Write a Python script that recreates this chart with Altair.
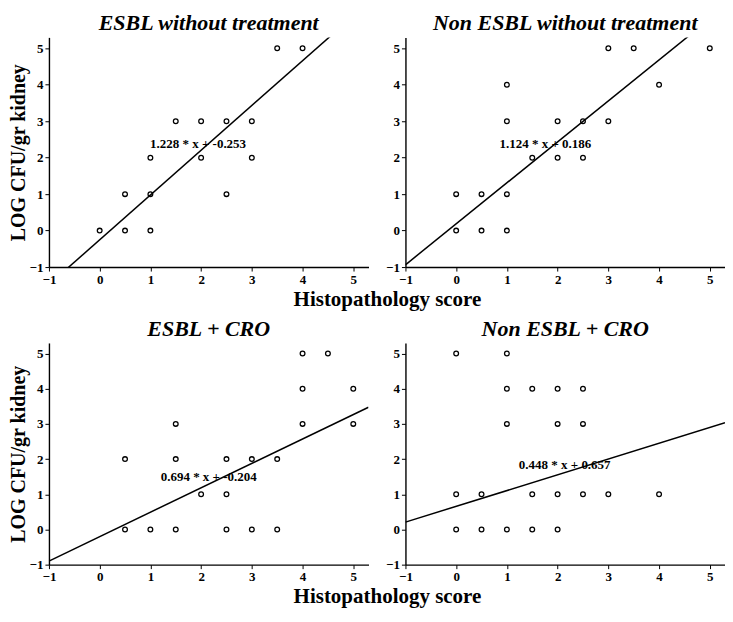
import altair as alt
import pandas as pd

FONT = "Liberation Serif"

titles = ["ESBL without treatment", "Non ESBL without treatment", "ESBL + CRO", "Non ESBL + CRO"]

p1_x = [0, 0.5, 1, 0.5, 1, 2.5, 1, 2, 3, 1.5, 2, 2.5, 3, 3.5, 4]
p1_y = [0, 0, 0, 1, 1, 1, 2, 2, 2, 3, 3, 3, 3, 5, 5]
p2_x = [0, 0.5, 1, 0, 0.5, 1, 1.5, 2, 2.5, 1, 2, 2.5, 3, 1, 4, 3, 3.5, 5]
p2_y = [0, 0, 0, 1, 1, 1, 2, 2, 2, 3, 3, 3, 3, 4, 4, 5, 5, 5]
p3_x = [0.5, 1, 1.5, 2.5, 3, 3.5, 2, 2.5, 0.5, 1.5, 2.5, 3, 3.5, 1.5, 4, 5, 4, 5, 4, 4.5]
p3_y = [0, 0, 0, 0, 0, 0, 1, 1, 2, 2, 2, 2, 2, 3, 3, 3, 4, 4, 5, 5]
p4_x = [0, 0.5, 1, 1.5, 2, 0, 0.5, 1.5, 2, 2.5, 3, 4, 1, 2, 2.5, 1, 1.5, 2, 2.5, 0, 1]
p4_y = [0, 0, 0, 0, 0, 1, 1, 1, 1, 1, 1, 1, 3, 3, 3, 4, 4, 4, 4, 5, 5]

slopes = [1.228, 1.124, 0.694, 0.448]
intercepts = [-0.253, 0.186, -0.204, 0.657]
equations = ["1.228 * x + -0.253", "1.124 * x + 0.186", "0.694 * x + -0.204", "0.448 * x + 0.657"]
label_x = [1.94, 1.76, 2.15, 2.14]
label_y = [2.37, 2.37, 1.5, 1.82]

tick_values = [-1, 0, 1, 2, 3, 4, 5]
domain = [-1, 5.3]

x_title = "Histopathology score"
y_title = "LOG CFU/gr kidney"

W = 320
H_ROWS = [230, 222]
COL_SP = 37
ROW_SP = 76

axis_common = dict(
    values=tick_values, labelFont=FONT, labelFontSize=13, labelFontWeight="bold",
    labelColor="black", tickColor="black", tickSize=4, tickWidth=1,
    domainColor="black", domainWidth=1.4, grid=False, labelPadding=2,
    labelFlush=False, titleFont=FONT, titleFontWeight="bold", titleColor="black",
)


def panel(i, xs, ys, left, height):
    pts = pd.DataFrame({"x": xs, "y": ys})
    line = pd.DataFrame({"x": domain, "y": [slopes[i] * v + intercepts[i] for v in domain]})
    lab = pd.DataFrame({"x": [label_x[i]], "y": [label_y[i]], "t": [equations[i]]})

    if left:
        xa = alt.Axis(title=x_title, titleFontSize=21, titlePadding=2,
                      titleX=(2 * W + COL_SP) / 2, **axis_common)
        ya = alt.Axis(title=y_title, titleFontSize=20, titlePadding=1, **axis_common)
    else:
        xa = alt.Axis(title=None, **axis_common)
        ya = alt.Axis(title=None, **axis_common)

    X = alt.X("x:Q", scale=alt.Scale(domain=domain, nice=False, zero=False), axis=xa)
    Y = alt.Y("y:Q", scale=alt.Scale(domain=domain, nice=False, zero=False), axis=ya)

    l = alt.Chart(line).mark_line(color="black", strokeWidth=1.5, clip=True).encode(x=X, y=Y)
    p = alt.Chart(pts).mark_point(shape="circle", filled=False, size=22, color="black",
                                  strokeWidth=1.3, opacity=1).encode(x=X, y=Y)
    t = alt.Chart(lab).mark_text(font=FONT, fontSize=13, fontWeight="bold", color="black",
                                 align="center", baseline="middle").encode(x=X, y=Y, text="t:N")
    return alt.layer(l, p, t).properties(
        width=W, height=height,
        title=alt.TitleParams(titles[i], font=FONT, fontSize=22, fontStyle="italic",
                              fontWeight="bold", anchor="middle", frame="group",
                              offset=2, color="black"),
    )


c1 = panel(0, p1_x, p1_y, True, H_ROWS[0])
c2 = panel(1, p2_x, p2_y, False, H_ROWS[0])
c3 = panel(2, p3_x, p3_y, True, H_ROWS[1])
c4 = panel(3, p4_x, p4_y, False, H_ROWS[1])

chart = alt.concat(
    c1, c2, c3, c4, columns=2,
    spacing=alt.RowColnumber(row=ROW_SP, column=COL_SP), bounds="flush",
).properties(padding={"top": 4, "left": 0, "right": 0, "bottom": 2}).configure_view(strokeWidth=0)

chart.save("out.html", embed_options={"renderer": "svg", "actions": False})
